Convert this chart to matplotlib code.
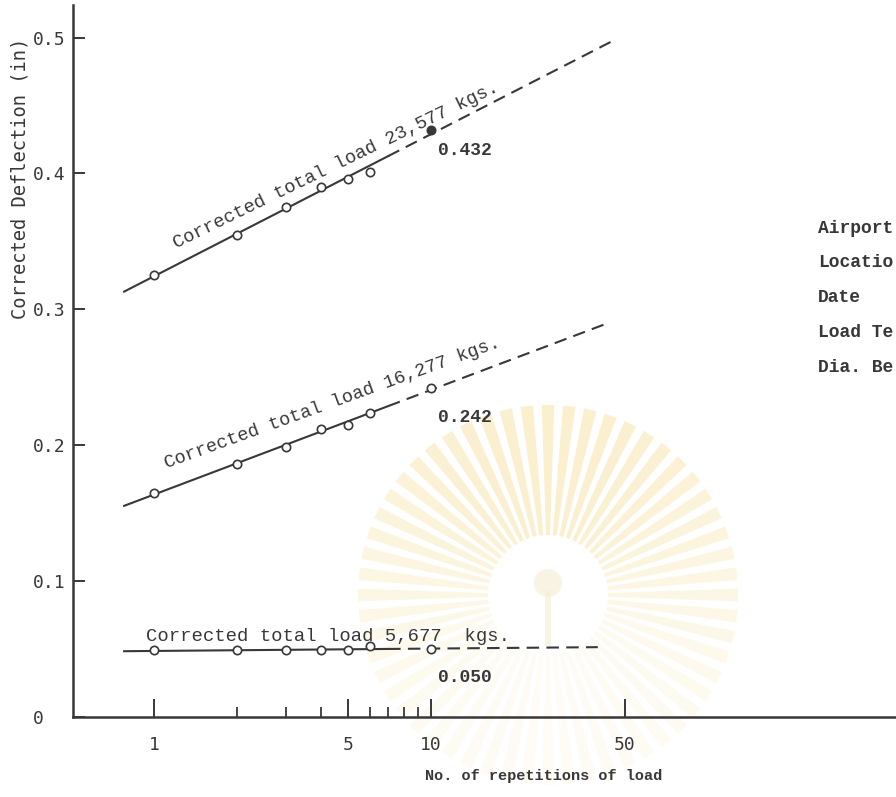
import numpy as np
import matplotlib
matplotlib.use("Agg")
import matplotlib.pyplot as plt
from matplotlib.patches import Wedge, Circle, Rectangle
from matplotlib.ticker import FixedLocator, FixedFormatter, NullFormatter

# Plate load test: corrected deflection against number of load repetitions
repetitions = [1, 2, 3, 4, 5, 6, 10]
load_names = ["23,577", "16,277", "5,677"]
defl_23577 = [0.325, 0.355, 0.375, 0.390, 0.396, 0.401, 0.432]
defl_16277 = [0.165, 0.186, 0.199, 0.212, 0.215, 0.224, 0.242]
defl_5677 = [0.049, 0.049, 0.049, 0.049, 0.049, 0.052, 0.050]
value_labels = ["0.432", "0.242", "0.050"]

x_major = [1, 5, 10, 50]
x_major_labels = ["1", "5", "10", "50"]
x_minor = [2, 3, 4, 6, 7, 8, 9]
y_ticks = [0, 0.1, 0.2, 0.3, 0.4, 0.5]
y_tick_labels = ["0", "0.1", "0.2", "0.3", "0.4", "0.5"]
info_fields = ["Airport", "Locatio", "Date", "Load Te", "Dia. Be"]

# extent of the fitted lines: solid over the tested range, dashed beyond
fit_start = 0.78
solid_end = 7.0
dash_end = [46, 44, 40]

INK = "#383838"
W, H = 896, 797
fig = plt.figure(figsize=(W / 100, H / 100), dpi=100)

# background layer in pixel units (faint seal printed on the sheet)
bg = fig.add_axes([0, 0, 1, 1], zorder=0)
bg.set_xlim(0, W)
bg.set_ylim(H, 0)
bg.axis("off")

cx, cy = 548, 595
n_rays = 56
for i in range(n_rays):
    a = i * 360.0 / n_rays
    # rays toward the bottom of the seal are printed a little stronger
    t = 0.5 - 0.5 * np.sin(np.radians(a))
    col = (0.98 - 0.02 * t, 0.94 - 0.07 * t, 0.80 - 0.22 * t)
    bg.add_patch(Wedge((cx, cy), 190, a - 1.9, a + 1.9, width=130,
                       facecolor=col, edgecolor="none", alpha=0.2 + 0.25 * t))
bg.add_patch(Circle((cx, cy - 12), 14, facecolor="#f7efd8", edgecolor="none", alpha=0.7))
bg.add_patch(Rectangle((cx - 3, cy - 4), 6, 55, facecolor="#f7efd8", edgecolor="none", alpha=0.7))

ax = fig.add_axes([73 / W, (H - 717) / H, 1 - 73 / W, 712 / H], zorder=1)
ax.patch.set_alpha(0)
ax.set_xscale("log")
ax.set_xlim(0.51, 477)
ax.set_ylim(0, 0.524)

for s in ["top", "right"]:
    ax.spines[s].set_visible(False)
for s in ["left", "bottom"]:
    ax.spines[s].set_linewidth(1.8)
    ax.spines[s].set_color(INK)

ax.xaxis.set_major_locator(FixedLocator(x_major))
ax.xaxis.set_major_formatter(FixedFormatter(x_major_labels))
ax.xaxis.set_minor_locator(FixedLocator(x_minor))
ax.xaxis.set_minor_formatter(NullFormatter())
ax.tick_params(axis="x", which="major", direction="in", length=13, width=1.4,
               color=INK, pad=14, labelsize=13, labelcolor=INK)
ax.tick_params(axis="x", which="minor", direction="in", length=7, width=1.3, color=INK)

ax.set_yticks(y_ticks)
ax.set_yticklabels(y_tick_labels)
ax.tick_params(axis="y", direction="in", length=8.5, width=1.4, color=INK,
               pad=29, labelsize=13, labelcolor=INK)
for lab in ax.get_yticklabels():
    lab.set_horizontalalignment("left")
for lab in ax.get_xticklabels() + ax.get_yticklabels():
    lab.set_family("DejaVu Sans Mono")

mono = "Liberation Mono"
series = [defl_23577, defl_16277, defl_5677]
x_arr = np.array(repetitions, dtype=float)
for k, ys in enumerate(series):
    ys = np.array(ys)
    b, a = np.polyfit(np.log10(x_arr), ys, 1)
    xs_solid = np.geomspace(fit_start, solid_end, 30)
    xs_dash = np.geomspace(solid_end, dash_end[k], 30)
    ax.plot(xs_solid, a + b * np.log10(xs_solid), color=INK, lw=1.5, zorder=2)
    ax.plot(xs_dash, a + b * np.log10(xs_dash), color=INK, lw=1.5,
            ls=(0, (6, 3.5)), zorder=2)
    ax.plot(x_arr[:-1], ys[:-1], "o", ms=6, mfc="white", mec=INK, mew=1.2, zorder=3)
    last_fill = INK if k == 0 else "white"
    ax.plot(x_arr[-1:], ys[-1:], "o", ms=6, mfc=last_fill, mec=INK, mew=1.2, zorder=3)
    drop = -18 if k == 0 else -24
    ax.annotate(value_labels[k], xy=(x_arr[-1], ys[-1]), xytext=(5, drop),
                textcoords="offset points", ha="left", va="baseline",
                fontsize=13, family=mono, weight="bold", color=INK)

# load captions along each line
ax.text(1.2, 0.345, "Corrected total load %s kgs." % load_names[0], rotation=26,
        rotation_mode="anchor", ha="left", va="baseline", fontsize=13.5,
        family=mono, color=INK)
ax.text(1.11, 0.183, "Corrected total load %s kgs." % load_names[1], rotation=20,
        rotation_mode="anchor", ha="left", va="baseline", fontsize=13.3,
        family=mono, color=INK)
ax.text(0.936, 0.056, "Corrected total load %s  kgs." % load_names[2],
        ha="left", va="baseline", fontsize=13.6, family=mono, color=INK)

ax.set_ylabel("Corrected Deflection (in)", fontsize=13.5, family="DejaVu Sans Mono",
              color=INK)
ax.yaxis.set_label_coords(20, 178, transform=bg.transData)
ax.yaxis.label.set_verticalalignment("center")

ax.set_xlabel("No. of repetitions of load", fontsize=11, family=mono,
              weight="bold", color=INK)
ax.xaxis.set_label_coords(425, 776, transform=bg.transData)
ax.xaxis.label.set_horizontalalignment("left")
ax.xaxis.label.set_verticalalignment("center")

# test record fields at the right of the sheet
for i, field in enumerate(info_fields):
    bg.text(818, 228 + 34.8 * i, field, ha="left", va="center", fontsize=13,
            family=mono, weight="bold", color=INK)

fig.savefig("out.png", dpi=100)
